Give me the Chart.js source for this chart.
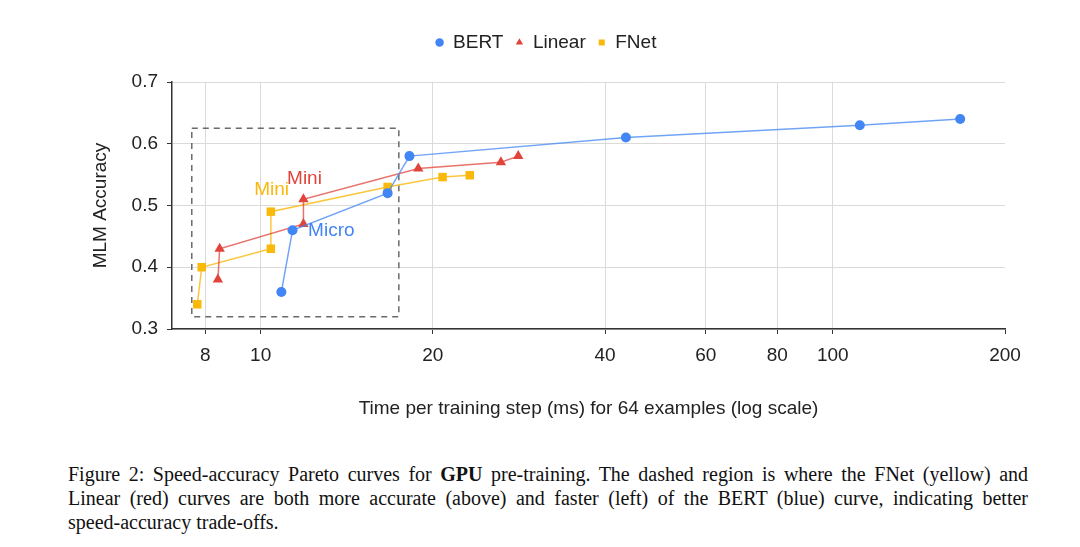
<!DOCTYPE html>
<html>
<head>
<meta charset="utf-8">
<script src="https://cdn.jsdelivr.net/npm/chart.js@4.4.0/dist/chart.umd.min.js"></script>
<style>
body { margin: 0; background: #fff; width: 1080px; height: 547px; overflow: hidden; position: relative; }
#wrap { position: absolute; left: 0; top: 0; width: 1080px; height: 440px; }
#caption {
    position: absolute; left: 68px; top: 462px; width: 960px;
    font-family: "Liberation Serif", "Times New Roman", serif;
    font-size: 20px; line-height: 24px; text-align: justify; color: #111;
}
.nobr { white-space: nowrap; }
</style>
</head>
<body>
<div id="wrap"><canvas id="paretoChart" width="1080" height="440"></canvas></div>
<div id="caption">Figure 2: Speed-accuracy Pareto curves for <b>GPU</b> pre-training. The dashed region is where the FNet (yellow) and Linear (red) curves are both more accurate (above) and faster (left) of the BERT (blue) curve, indicating better <span class="nobr">speed-accuracy</span> trade-offs.</div>
<script>
// Data (x = ms per step, y = MLM accuracy)
const bertTime = [10.87, 11.37, 16.67, 18.2, 43.5, 111.5, 167];
const bertAcc = [0.36, 0.46, 0.52, 0.58, 0.61, 0.63, 0.64];

const linearTime = [8.42, 8.48, 11.88, 11.88, 18.86, 26.3, 28.2];
const linearAcc = [0.38, 0.43, 0.47, 0.51, 0.56, 0.57, 0.58];

const fnetTime = [7.75, 7.89, 10.42, 10.42, 16.67, 20.8, 23.2];
const fnetAcc = [0.34, 0.40, 0.43, 0.49, 0.53, 0.546, 0.549];

const xTickValues = [8, 10, 20, 40, 60, 80, 100, 200];
const yTickValues = [0.3, 0.4, 0.5, 0.6, 0.7];

// dashed "better" region and the size labels
const regionX = [7.58, 17.44];
const regionY = [0.32, 0.625];
const labelText = ["Mini", "Mini", "Micro"];
const labelX = [11.93, 10.45, 13.29];
const labelY = [0.544, 0.525, 0.459];

const BLUE = '#4285F4';
const RED = '#E0443A';
const YELLOW = '#F9B90B';
const labelColor = [RED, YELLOW, BLUE];
const FONT = '"Liberation Sans", Arial, sans-serif';

function toPoints(xs, ys) {
    return xs.map((x, i) => ({ x: x, y: ys[i] }));
}

const overlayPlugin = {
    id: 'overlay',
    beforeUpdate(chart) {
        // leave a gap between the legend and the plot
        if (chart.legend && !chart.legend._gapPatched) {
            const fit = chart.legend.fit;
            chart.legend.fit = function () {
                fit.call(this);
                this.height += 20;
            };
            chart.legend._gapPatched = true;
        }
    },
    beforeDatasetsDraw(chart) {
        const { ctx, scales: { x, y } } = chart;
        const left = x.getPixelForValue(regionX[0]);
        const right = x.getPixelForValue(regionX[1]);
        const top = y.getPixelForValue(regionY[1]);
        const bottom = y.getPixelForValue(regionY[0]);
        ctx.save();
        ctx.setLineDash([6, 5]);
        ctx.strokeStyle = '#6b6b6b';
        ctx.lineWidth = 1.5;
        ctx.strokeRect(left, top, right - left, bottom - top);
        ctx.restore();
    },
    afterDatasetsDraw(chart) {
        const { ctx, scales: { x, y } } = chart;
        ctx.save();
        ctx.font = '19px ' + FONT;
        ctx.textAlign = 'center';
        ctx.textBaseline = 'middle';
        labelText.forEach((t, i) => {
            ctx.fillStyle = labelColor[i];
            ctx.fillText(t, x.getPixelForValue(labelX[i]), y.getPixelForValue(labelY[i]));
        });
        ctx.restore();
    }
};

function series(label, xs, ys, color, lineColor, style, radius) {
    return {
        label: label,
        data: toPoints(xs, ys),
        showLine: true,
        borderColor: lineColor,
        backgroundColor: color,
        borderWidth: 1.5,
        pointStyle: style,
        pointRadius: radius,
        pointHoverRadius: radius,
        pointBackgroundColor: color,
        pointBorderColor: color,
        pointBorderWidth: 0
    };
}

const paretoConfig = {
    type: 'scatter',
    data: {
        datasets: [
            series('BERT', bertTime, bertAcc, BLUE, 'rgba(66,133,244,0.75)', 'circle', 5),
            series('Linear', linearTime, linearAcc, RED, 'rgba(224,68,58,0.75)', 'triangle', 6),
            series('FNet', fnetTime, fnetAcc, YELLOW, 'rgba(249,185,11,0.8)', 'rect', 6)
        ]
    },
    options: {
        responsive: false,
        animation: false,
        layout: { padding: { left: 87, right: 75, top: 21, bottom: 0 } },
        plugins: {
            tooltip: { enabled: false },
            legend: {
                position: 'top',
                labels: {
                    usePointStyle: true,
                    boxWidth: 8,
                    boxHeight: 6,
                    padding: 12,
                    color: '#222',
                    font: { family: FONT, size: 19 }
                }
            }
        },
        scales: {
            x: {
                type: 'logarithmic',
                min: 7,
                max: 200,
                afterBuildTicks: (scale) => {
                    scale.ticks = xTickValues.map(v => ({ value: v }));
                },
                afterFit: (scale) => { scale.height = 111; },
                ticks: {
                    autoSkip: false,
                    maxRotation: 0,
                    padding: 10,
                    color: '#222',
                    font: { family: FONT, size: 19 },
                    callback: (v) => String(v)
                },
                grid: {
                    color: (c) => (c.tick && c.tick.value === 200) ? 'rgba(0,0,0,0)' : '#dadada',
                    tickColor: '#333',
                    tickLength: 5
                },
                border: { color: '#333', width: 1.5 },
                title: {
                    display: true,
                    text: 'Time per training step (ms) for 64 examples (log scale)',
                    color: '#222',
                    font: { family: FONT, size: 19 },
                    padding: { top: 0, bottom: 20 }
                }
            },
            y: {
                min: 0.3,
                max: 0.7,
                afterBuildTicks: (scale) => {
                    scale.ticks = yTickValues.map(v => ({ value: v }));
                },
                afterFit: (scale) => { scale.width = 85; },
                ticks: {
                    padding: 9,
                    color: '#222',
                    font: { family: FONT, size: 19 },
                    callback: (v) => v.toFixed(1)
                },
                grid: {
                    color: '#dadada',
                    tickColor: '#333',
                    tickLength: 5
                },
                border: { color: '#333', width: 1.5 },
                title: {
                    display: true,
                    text: 'MLM Accuracy',
                    color: '#222',
                    font: { family: FONT, size: 19 },
                    padding: { top: 2, bottom: 0 }
                }
            }
        }
    },
    plugins: [overlayPlugin]
};

let paretoChart = new Chart(document.getElementById('paretoChart'), paretoConfig);
</script>
</body>
</html>
